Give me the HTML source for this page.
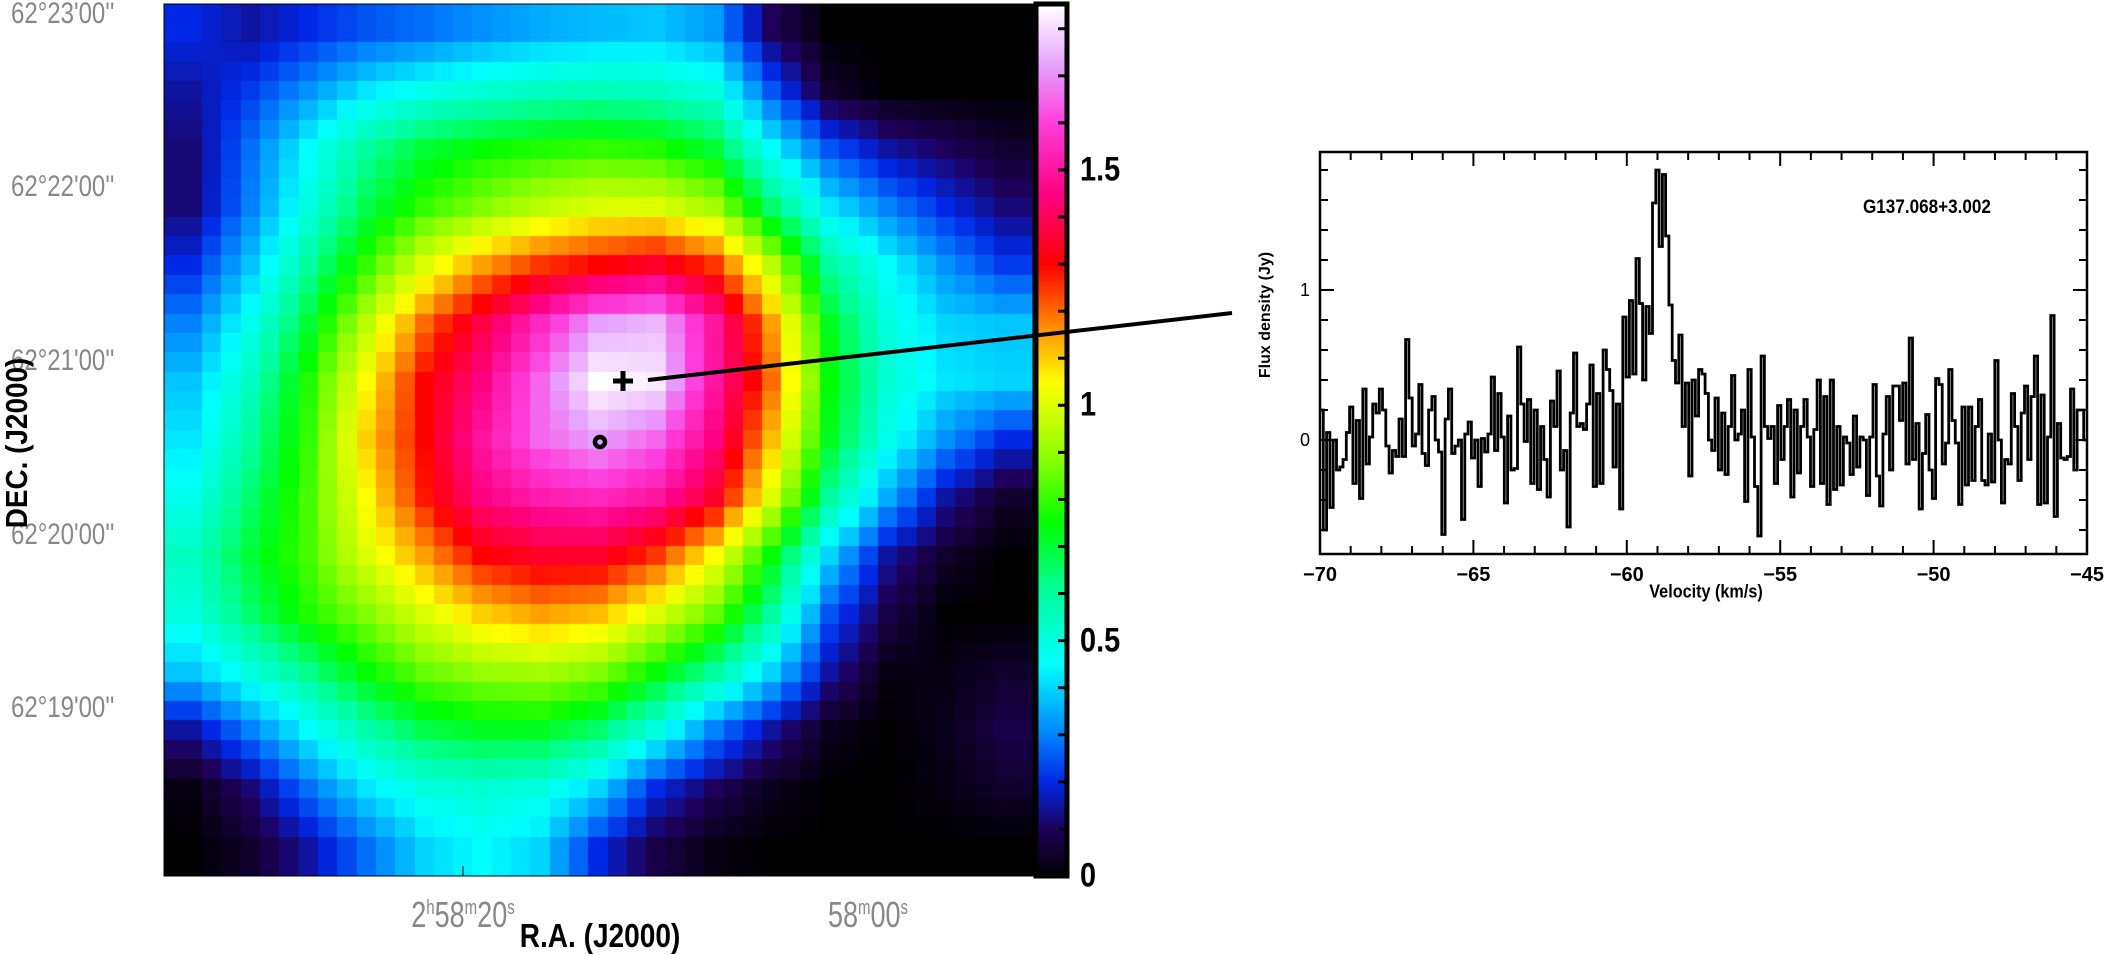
<!DOCTYPE html>
<html><head><meta charset="utf-8"><style>
body{margin:0;background:#fff;width:2104px;height:955px;overflow:hidden;position:relative;font-family:"Liberation Sans",sans-serif}
.t{position:absolute;white-space:nowrap}
.dec{color:#888;font-size:30px;transform:translate(0,-50%) scaleX(0.8);transform-origin:left center;font-weight:normal}
.cb{font-weight:bold;font-size:34px;transform:translate(0,-50%) scaleX(0.85);transform-origin:left center}
</style></head><body>
<canvas id="map" width="869" height="872" style="position:absolute;left:164px;top:4px"></canvas>
<canvas id="cbar" width="31" height="872" style="position:absolute;left:1036px;top:4px"></canvas>
<svg id="ov" width="2104" height="955" style="position:absolute;left:0;top:0"></svg>
<div class="t dec" style="left:11px;top:14px">62°23'00''</div>
<div class="t dec" style="left:11px;top:187px">62°22'00''</div>
<div class="t dec" style="left:11px;top:361px">62°21'00''</div>
<div class="t dec" style="left:11px;top:535px">62°20'00''</div>
<div class="t dec" style="left:11px;top:708px">62°19'00''</div>
<div class="t" style="left:17px;top:443px;font-weight:bold;font-size:31px;transform:translate(-50%,-50%) rotate(-90deg) scaleX(0.9)">DEC. (J2000)</div>
<div class="t" style="left:463px;top:915px;color:#888;font-size:36px;transform:translate(-50%,-50%) scaleX(0.75)">2<sup style="font-size:20px">h</sup>58<sup style="font-size:20px">m</sup>20<sup style="font-size:20px">s</sup></div>
<div class="t" style="left:868px;top:915px;color:#888;font-size:36px;transform:translate(-50%,-50%) scaleX(0.75)">58<sup style="font-size:20px">m</sup>00<sup style="font-size:20px">s</sup></div>
<div class="t" style="left:600px;top:936px;font-weight:bold;font-size:33px;transform:translate(-50%,-50%) scaleX(0.85)">R.A. (J2000)</div>
<div class="t cb" style="left:1080px;top:170px">1.5</div>
<div class="t cb" style="left:1080px;top:405px">1</div>
<div class="t cb" style="left:1080px;top:641px">0.5</div>
<div class="t cb" style="left:1080px;top:876px">0</div>
<div class="t" style="left:1863px;top:208px;font-size:19px;font-weight:bold;transform:translate(0,-50%) scaleX(0.9);transform-origin:left center">G137.068+3.002</div>
<div class="t" style="left:1266px;top:315px;font-size:16px;font-weight:bold;transform:translate(-50%,-50%) rotate(-90deg)">Flux density (Jy)</div>
<div class="t" style="left:1706px;top:592px;font-size:18px;font-weight:bold;transform:translate(-50%,-50%) scaleX(0.9)">Velocity (km/s)</div>
<script>
const mapGrid=[
[0.2,0.15,0.2,0.25,0.28,0.32,0.35,0.37,0.38,0.33,0.1,0,0,0,0],
[0.15,0.22,0.32,0.42,0.48,0.52,0.55,0.56,0.55,0.5,0.25,0.05,0,0,0],
[0.12,0.28,0.45,0.6,0.7,0.75,0.78,0.8,0.78,0.7,0.45,0.25,0.15,0.1,0.05],
[0.12,0.3,0.5,0.68,0.8,0.88,0.95,1.0,1.0,0.92,0.65,0.42,0.3,0.2,0.12],
[0.2,0.38,0.6,0.8,1.0,1.15,1.25,1.3,1.35,1.25,0.95,0.6,0.45,0.32,0.22],
[0.3,0.48,0.7,0.95,1.2,1.38,1.55,1.72,1.75,1.5,1.15,0.72,0.5,0.4,0.38],
[0.38,0.55,0.78,1.05,1.3,1.45,1.65,1.85,1.82,1.5,1.2,0.75,0.52,0.42,0.4],
[0.42,0.6,0.8,1.1,1.3,1.5,1.65,1.72,1.65,1.45,1.12,0.72,0.48,0.32,0.2],
[0.48,0.65,0.82,1.05,1.28,1.45,1.52,1.55,1.5,1.35,1.0,0.6,0.35,0.15,0.05],
[0.55,0.7,0.82,1.0,1.15,1.3,1.35,1.35,1.25,1.05,0.75,0.4,0.15,0.05,0],
[0.5,0.65,0.78,0.88,1.0,1.1,1.15,1.12,1.0,0.85,0.6,0.25,0.08,0,0],
[0.38,0.5,0.62,0.75,0.85,0.9,0.92,0.88,0.75,0.6,0.4,0.15,0.02,0.02,0.05],
[0.15,0.3,0.45,0.58,0.68,0.72,0.72,0.65,0.5,0.3,0.15,0.03,0,0.03,0.08],
[0.02,0.12,0.28,0.42,0.5,0.52,0.5,0.4,0.2,0.1,0.03,0,0,0.02,0.05],
[0,0.05,0.15,0.28,0.4,0.45,0.4,0.2,0.08,0.02,0,0,0,0,0]];
const cbTicks=[0,0.5,1,1.5];
const velRange=[-70,-45];
const fluxRange=[-0.76,1.92];
const velTicks=[-70,-65,-60,-55,-50,-45];
const fluxTicks=[0,1];
const flux=[0.2,-0.6,0.05,-0.45,0,-0.2,-0.18,-0.13,0.05,0.22,-0.29,0.13,-0.39,0.34,-0.16,0.02,0.24,0.18,0.34,0.2,-0.04,-0.22,-0.07,-0.11,0.14,-0.11,0.67,0.28,-0.04,0.04,0.37,-0.09,-0.17,0.2,0.29,0,-0.08,-0.63,0.14,0.34,-0.09,-0.04,0,-0.53,0.04,0.12,-0.12,0,-0.31,0.01,-0.08,0.04,0.42,-0.07,0.31,0.02,-0.42,0.16,-0.2,
-0.19,0.62,0.24,-0.01,0.27,-0.29,0.2,-0.33,0.09,-0.13,-0.38,0.26,0.09,0.46,-0.2,-0.07,-0.58,0.18,0.58,0.09,0.11,0.07,0.24,0.5,-0.31,0.31,-0.29,0.6,0.47,0.33,-0.18,0.24,-0.46,0.82,0.42,0.93,0.44,1.21,0.91,0.4,0.89,0.71,1.58,1.8,1.29,1.77,1.36,0.9,0.53,0.38,0.7,0.09,0.38,-0.24,0.4,0.16,0.47,
0.44,0.31,0,-0.07,0.28,-0.2,0.18,-0.23,0.09,0.43,0,0.04,0.2,-0.41,0.47,0.02,-0.31,-0.64,0.56,0.09,0.01,0.09,-0.29,0.23,-0.13,0.09,0.27,-0.38,0.2,-0.22,0.09,0.27,0.02,-0.31,0.07,0.4,-0.29,0.29,-0.43,0.4,-0.33,0.09,-0.3,0.02,-0.02,-0.23,0.16,-0.18,0.02,0,-0.37,0.02,0.37,-0.24,-0.44,0.04,0.29,-0.2,0.36,
0.36,0.13,0.38,-0.16,0.68,-0.13,0.11,-0.46,-0.09,0.17,-0.2,-0.39,0.41,0.37,-0.16,-0.02,0.47,0.13,-0.02,-0.43,0.22,-0.3,0.22,-0.27,0.09,0.27,-0.27,-0.3,0.04,-0.28,0.53,0,-0.42,-0.13,-0.16,0.31,0.09,-0.27,0.18,0.36,-0.13,0.29,0.56,-0.43,0.3,-0.42,0.02,0.83,-0.51,0.11,-0.12,-0.13,-0.11,0.34,-0.2,0.2,0.2,0];

const stops=[[0,0,0,0],[0.1,30,0,90],[0.2,0,40,230],[0.3,0,130,255],[0.45,0,255,255],[0.6,0,255,160],[0.75,0,255,0],[0.9,150,255,0],[1.05,255,255,0],[1.15,255,160,0],[1.3,255,0,0],[1.45,255,0,130],[1.6,255,60,220],[1.72,230,160,255],[1.85,255,255,255]];
function cmap(v){if(v<=0)return[0,0,0];if(v>=1.85)return[255,255,255];
for(let i=1;i<stops.length;i++){if(v<=stops[i][0]){const a=stops[i-1],b=stops[i],t=(v-a[0])/(b[0]-a[0]);return[0,1,2].map(k=>Math.round(a[k+1]+(b[k+1]-a[k+1])*t));}}}
// map: grid -> values resampled to 45x45 pixel blocks (colours computed per block)
const n=mapGrid.length,M=45;
function sample(r,c){r=Math.max(0,Math.min(n-1,r));c=Math.max(0,Math.min(n-1,c));const r0=Math.floor(r),c0=Math.floor(c),r1=Math.min(n-1,r0+1),c1=Math.min(n-1,c0+1),fr=r-r0,fc=c-c0;
return mapGrid[r0][c0]*(1-fr)*(1-fc)+mapGrid[r0][c1]*(1-fr)*fc+mapGrid[r1][c0]*fr*(1-fc)+mapGrid[r1][c1]*fr*fc;}
const mc=document.getElementById('map').getContext('2d');
const cw=869/M,ch=872/M;
for(let i=0;i<M;i++)for(let j=0;j<M;j++){const v=sample((i+0.5)*n/M-0.5,(j+0.5)*n/M-0.5);const col=cmap(v);mc.fillStyle=`rgb(${col})`;
mc.fillRect(Math.floor(j*cw),Math.floor(i*ch),Math.ceil(cw)+1,Math.ceil(ch)+1);}
// colorbar
const cc=document.getElementById('cbar').getContext('2d');
for(let y=0;y<872;y++){const v=(872-y)/470.7;const col=cmap(v);cc.fillStyle=`rgb(${col})`;cc.fillRect(0,y,31,1);}
const NS='http://www.w3.org/2000/svg';const ov=document.getElementById('ov');
function mk(tag,attrs,name){const e=document.createElementNS(NS,tag);for(const k in attrs)e.setAttribute(k,attrs[k]);


ov.appendChild(e);return e;}
function cbY(v){return 876-v*470.7;}
mk('rect',{x:1036,y:4,width:31,height:872,fill:'none',stroke:'#000','stroke-width':5},'colorbar-frame');
for(let v=0.1;v<1.85;v+=0.1){mk('line',{x1:1058,x2:1067,y1:cbY(v),y2:cbY(v),stroke:'#000','stroke-width':3},'colorbar-tick');}
mk('rect',{x:164,y:4,width:869,height:872,fill:'none',stroke:'#000','stroke-width':1},'map-frame');
// markers
mk('path',{d:'M613 381h20M623 371v20',stroke:'#000','stroke-width':5},'peak-cross');
mk('circle',{cx:600,cy:442,r:5,fill:'none',stroke:'#000','stroke-width':4.5},'source-circle');
mk('line',{x1:648,y1:380,x2:1232,y2:313,stroke:'#000','stroke-width':4},'pointer-line');
// spectrum
const L=1320,R=2087,T=152,B=554;
const xS=v=>L+(v-velRange[0])/(velRange[1]-velRange[0])*(R-L);
const yS=f=>B-(f-fluxRange[0])/(fluxRange[1]-fluxRange[0])*(B-T);
const dv=(velRange[1]-velRange[0])/flux.length;
let d='';flux.forEach((f,i)=>{const x0=xS(velRange[0]+i*dv),x1=xS(velRange[0]+(i+1)*dv),y=yS(f);d+=(i?'L':'M')+x0.toFixed(1)+' '+y.toFixed(1)+'L'+x1.toFixed(1)+' '+y.toFixed(1);});
mk('path',{d:d,fill:'none',stroke:'#000','stroke-width':2.8},'spectrum-line');
mk('rect',{x:L,y:T,width:R-L,height:B-T,fill:'none',stroke:'#000','stroke-width':2.5},'spectrum-frame');
for(let v=velRange[0];v<=velRange[1];v++){const maj=(v%5===0),h=maj?14:8,x=xS(v);
mk('line',{x1:x,x2:x,y1:B,y2:B-h,stroke:'#000','stroke-width':2},'x-tick');
mk('line',{x1:x,x2:x,y1:T,y2:T+h,stroke:'#000','stroke-width':2},'x-tick');}
for(let f=-0.6;f<1.9;f+=0.2){const fr=Math.round(f*10)/10,maj=(fr===0||fr===1),h=maj?14:8,y=yS(fr);
mk('line',{x1:L,x2:L+h,y1:y,y2:y,stroke:'#000','stroke-width':2},'y-tick');
mk('line',{x1:R,x2:R-h,y1:y,y2:y,stroke:'#000','stroke-width':2},'y-tick');}
velTicks.forEach(v=>{const t=mk('text',{x:xS(v),y:581,'text-anchor':'middle','font-size':20,'font-weight':'bold','font-family':'Liberation Sans, sans-serif'},'x-tick-label');t.textContent='−'+Math.abs(v);});
fluxTicks.forEach(f=>{const t=mk('text',{x:1305,y:yS(f)+6,'text-anchor':'middle','font-size':18,'font-family':'Liberation Sans, sans-serif'},'y-tick-label');t.textContent=String(f);});
// map ticks
[463,868].forEach(x=>{mk('line',{x1:x,x2:x,y1:876,y2:866,stroke:'#000','stroke-width':1},'ra-tick');});
</script>
</body></html>
